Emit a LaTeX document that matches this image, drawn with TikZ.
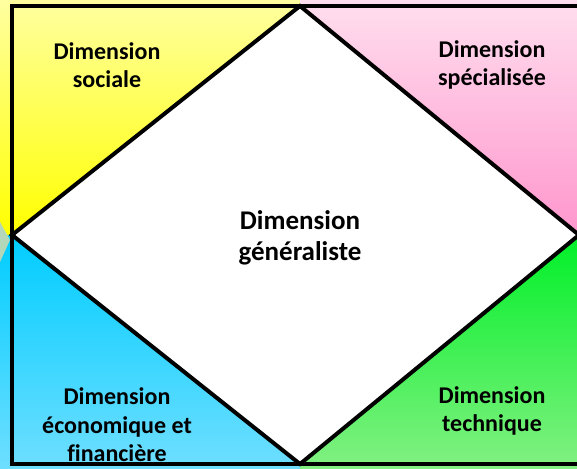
\documentclass[tikz,border=0pt]{standalone}
\usepackage{fontspec}
\setmainfont[Ligatures=NoCommon]{Carlito}
\begin{document}
\begin{tikzpicture}[x=1pt,y=-1pt,
  lbl/.style={font=\bfseries\fontsize{24}{28.5}\selectfont,align=center,text=black,inner sep=0pt},
  big/.style={font=\bfseries\fontsize{27}{31}\selectfont,align=center,text=black,inner sep=0pt},
  edge/.style={line width=4pt,black}]
\useasboundingbox (0,0) rectangle (577,468);
\clip (0,0) rectangle (577,468);
% quadrants
\shade[top color={rgb,255:red,255;green,255;blue,160}, bottom color={rgb,255:red,255;green,255;blue,0}] (0,0) rectangle (300,235);
\shade[top color={rgb,255:red,255;green,222;blue,238}, bottom color={rgb,255:red,255;green,150;blue,205}] (300,0) rectangle (577,235);
\shade[top color={rgb,255:red,0;green,205;blue,255}, bottom color={rgb,255:red,110;green,222;blue,255}] (0,235) rectangle (300,468);
\shade[top color={rgb,255:red,0;green,240;blue,40}, bottom color={rgb,255:red,130;green,240;blue,130}] (300,235) rectangle (577,468);
% small overlap tint at left
\fill[color={rgb,255:red,180;green,215;blue,185}] (0,222) -- (10,240) -- (0,262) -- cycle;
% frame
\draw[edge] (12,466) -- (12,6) -- (579,6);
\draw[edge] (10,464) -- (579,464);
% diamond
\coordinate (T) at (300,6);
\coordinate (L) at (12,235);
\coordinate (B) at (300,464);
\coordinate (R) at (579,235);
\filldraw[edge,fill=white] (T) -- (L) -- (B) -- (R) -- cycle;
% labels
\node[lbl] (soc) at (107,65) {Dimension\\sociale};
\node[lbl] (spe) at (492,65) {Dimension\\spécialisée};
\node[big] (gen) at (300,238) {Dimension\\généraliste};
\node[lbl] (eco) at (117,425) {Dimension\\économique et\\financière};
\node[lbl] (tec) at (492,411) {Dimension\\technique};
\end{tikzpicture}
\end{document}
